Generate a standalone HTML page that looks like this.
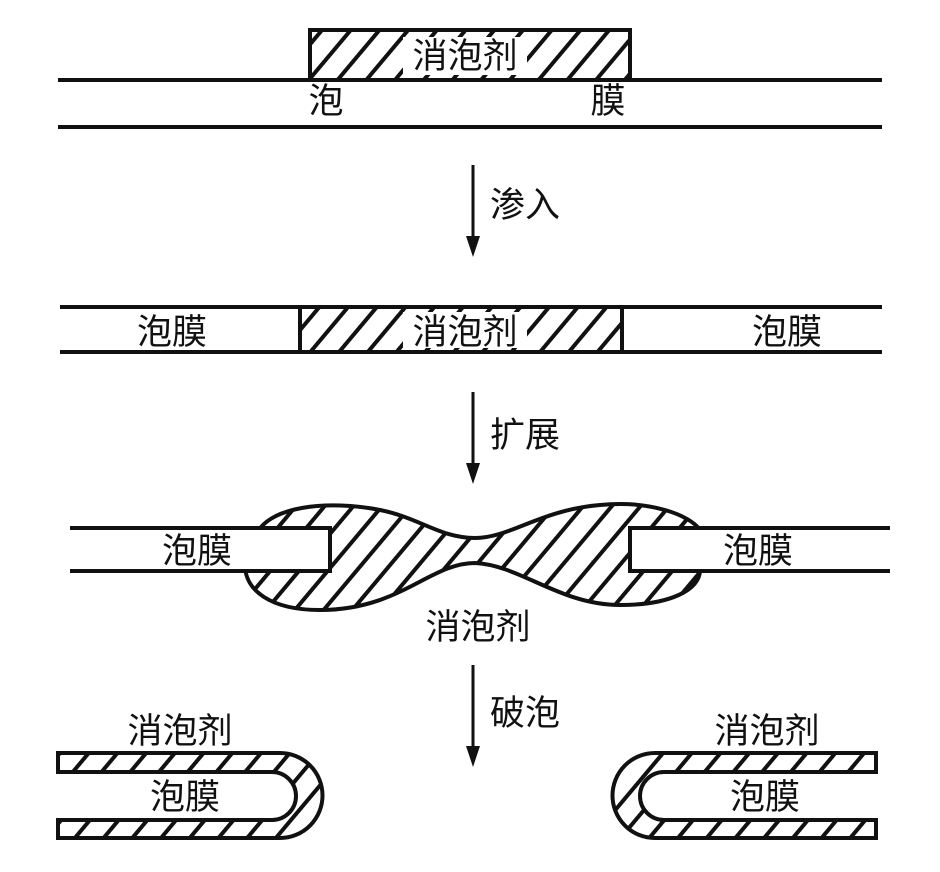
<!DOCTYPE html>
<html><head><meta charset="utf-8"><style>
html,body{margin:0;padding:0;background:#fff;}
svg text{font-family:"Liberation Sans","Noto Sans CJK SC",sans-serif;font-size:35px;fill:#111;}
</style></head><body>
<svg width="940" height="867" viewBox="0 0 940 867" xmlns="http://www.w3.org/2000/svg">
<defs>
<pattern id="h" patternUnits="userSpaceOnUse" width="22" height="22" patternTransform="rotate(40)">
<rect width="22" height="22" fill="#fff"/>
<rect x="0" y="0" width="4" height="22" fill="#111"/>
</pattern>
</defs>
<g stroke="#111" stroke-width="4" fill="none">
<rect x="310" y="30" width="320" height="50" fill="url(#h)"/>
<line x1="58" y1="80" x2="882" y2="80"/>
<line x1="58" y1="127" x2="882" y2="127"/>
<line x1="60" y1="307" x2="882" y2="307"/>
<line x1="60" y1="352" x2="882" y2="352"/>
<rect x="300" y="307" width="322" height="45" fill="url(#h)"/>
<path d="M255 538 C265 505 330 500 380 510 C420 518 440 538 475 538 C510 538 540 510 600 505 C650 500 690 515 700 530 L700 570 C700 590 670 605 620 605 C560 605 520 565 475 563 C430 563 400 610 320 610 C270 610 245 590 245 565 Z" fill="url(#h)"/>
<path d="M70 528 L330 528 L330 571 L70 571" fill="#fff"/>
<path d="M890 528 L630 528 L630 571 L890 571" fill="#fff"/>
<path d="M58 753 L280 753 A42 42 0 0 1 280 838 L58 838 L58 820 L272 820 A24 24 0 0 0 272 772 L58 772 Z" fill="url(#h)"/>
<path d="M876 753 L655 753 A42 42 0 0 0 655 838 L876 838 L876 820 L664 820 A24 24 0 0 1 664 772 L876 772 Z" fill="url(#h)"/>
<line x1="473" y1="165" x2="473" y2="240" stroke-width="3"/>
<line x1="473" y1="392" x2="473" y2="467" stroke-width="3"/>
<line x1="473" y1="665" x2="473" y2="750" stroke-width="3"/>
</g>
<g fill="#111">
<polygon points="466,236 480,236 473,257"/>
<polygon points="466,463 480,463 473,484"/>
<polygon points="466,746 480,746 473,767"/>
</g>
<g>
<rect x="403" y="37" width="124" height="38" fill="#fff"/>
<text x="465" y="68" text-anchor="middle">消泡剂</text>
<text x="326" y="113" text-anchor="middle">泡</text>
<text x="608" y="113" text-anchor="middle">膜</text>
<text x="490" y="217">渗入</text>
<text x="172" y="344" text-anchor="middle">泡膜</text>
<rect x="403" y="312" width="124" height="36" fill="#fff"/>
<text x="465" y="344" text-anchor="middle">消泡剂</text>
<text x="787" y="344" text-anchor="middle">泡膜</text>
<text x="490" y="447">扩展</text>
<text x="197" y="563" text-anchor="middle">泡膜</text>
<text x="758" y="563" text-anchor="middle">泡膜</text>
<text x="478" y="639" text-anchor="middle">消泡剂</text>
<text x="490" y="725">破泡</text>
<text x="180" y="743" text-anchor="middle">消泡剂</text>
<text x="185" y="809" text-anchor="middle">泡膜</text>
<text x="767" y="743" text-anchor="middle">消泡剂</text>
<text x="765" y="809" text-anchor="middle">泡膜</text>
</g>
</svg>
</body></html>
